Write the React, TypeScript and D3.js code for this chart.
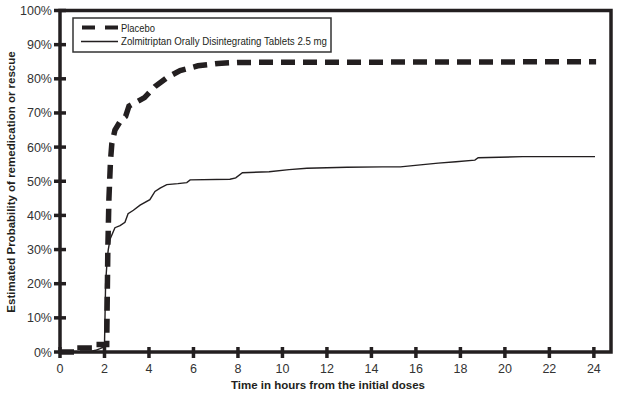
import React, { useEffect, useRef } from 'react';
import * as d3 from 'd3';

// Kaplan-Meier style curves (hours, probability)
const placeboHours = [0, 0.9, 0.9, 1.5, 1.5, 2.1, 2.15, 2.2, 2.27, 2.33, 2.47, 2.75, 2.95, 3.1, 3.8, 4.27, 4.8, 5.4, 6.2, 7.1, 8.0, 24.1];
const placeboProb = [0, 0, 0.012, 0.012, 0.022, 0.022, 0.3, 0.45, 0.56, 0.61, 0.65, 0.68, 0.69, 0.72, 0.745, 0.777, 0.803, 0.824, 0.838, 0.845, 0.848, 0.85];

const zolmiHours = [0, 1.3, 1.6, 1.8, 1.97, 2.0, 2.05, 2.12, 2.17, 2.25, 2.47, 2.7, 2.92, 3.06, 3.3, 3.6, 4.04, 4.27, 4.5, 4.8, 5.3, 5.7, 5.85, 7.64, 7.9, 8.2, 9.4, 10.3, 11.1, 12.9, 14.5, 15.3, 16.2, 17.0, 17.8, 18.65, 18.8, 20.8, 24.05];
const zolmiProb = [0, 0, 0.005, 0.01, 0.015, 0.02, 0.2, 0.27, 0.3, 0.33, 0.364, 0.37, 0.38, 0.405, 0.415, 0.43, 0.446, 0.47, 0.48, 0.49, 0.493, 0.496, 0.504, 0.506, 0.51, 0.525, 0.528, 0.534, 0.538, 0.541, 0.542, 0.542, 0.548, 0.553, 0.557, 0.562, 0.569, 0.572, 0.572];

const xTicks = [0, 2, 4, 6, 8, 10, 12, 14, 16, 18, 20, 22, 24];
const yTicks = [0, 0.1, 0.2, 0.3, 0.4, 0.5, 0.6, 0.7, 0.8, 0.9, 1.0];

const legendLabels = ['Placebo', 'Zolmitriptan Orally Disintegrating Tablets 2.5 mg'];

const App: React.FC = () => {
  const svgRef = useRef<SVGSVGElement>(null);

  useEffect(() => {
    if (!svgRef.current) return;
    const width = 617;
    const height = 393;
    const ink = '#231f20';

    const svg = d3.select(svgRef.current);
    svg.selectAll('*').remove();
    svg.attr('width', width).attr('height', height)
      .style('font-family', 'Arial, "Liberation Sans", Helvetica, sans-serif');

    const x = d3.scaleLinear().domain([0, 24.77]).range([60, 611]);
    const y = d3.scaleLinear().domain([0, 1]).range([352, 10.5]);

    const line = d3.line<[number, number]>()
      .x(d => x(d[0]))
      .y(d => y(d[1]));

    // curves
    const placebo = placeboHours.map((h, i) => [h, placeboProb[i]] as [number, number]);
    const zolmi = zolmiHours.map((h, i) => [h, zolmiProb[i]] as [number, number]);

    svg.append('path')
      .attr('d', line(zolmi)!)
      .attr('fill', 'none')
      .attr('stroke', ink)
      .attr('stroke-width', 1.4);

    svg.append('path')
      .attr('d', line(placebo)!)
      .attr('fill', 'none')
      .attr('stroke', ink)
      .attr('stroke-width', 5.5)
      .attr('stroke-dasharray', '14 8');

    // frame
    svg.append('rect')
      .attr('x', x(0)).attr('y', y(1))
      .attr('width', x.range()[1] - x(0))
      .attr('height', y(0) - y(1))
      .attr('fill', 'none')
      .attr('stroke', ink)
      .attr('stroke-width', 3.5);

    // y ticks (crossing the axis)
    const yg = svg.append('g');
    yg.selectAll('line')
      .data(yTicks)
      .join('line')
      .attr('x1', x(0) - 6).attr('x2', x(0) + 6)
      .attr('y1', d => y(d)).attr('y2', d => y(d))
      .attr('stroke', ink).attr('stroke-width', 3.5);
    yg.selectAll('text')
      .data(yTicks)
      .join('text')
      .attr('x', 52)
      .attr('y', d => y(d) + 4.5)
      .attr('text-anchor', 'end')
      .style('font-size', '12.5px')
      .style('fill', '#333')
      .text(d => `${Math.round(d * 100)}%`);

    // x ticks
    const xg = svg.append('g');
    xg.selectAll('line')
      .data(xTicks)
      .join('line')
      .attr('x1', d => x(d)).attr('x2', d => x(d))
      .attr('y1', y(0) - 5).attr('y2', y(0) + 6)
      .attr('stroke', ink).attr('stroke-width', 3.5);
    xg.selectAll('text')
      .data(xTicks)
      .join('text')
      .attr('x', d => x(d))
      .attr('y', 373)
      .attr('text-anchor', 'middle')
      .style('font-size', '12.5px')
      .style('fill', '#333')
      .text(d => String(d));

    // axis titles
    svg.append('text')
      .attr('x', 328).attr('y', 389)
      .attr('text-anchor', 'middle')
      .style('font-size', '11.5px')
      .style('font-weight', 'bold')
      .style('fill', ink)
      .text('Time in hours from the initial doses');

    svg.append('text')
      .attr('transform', 'translate(15,182) rotate(-90)')
      .attr('text-anchor', 'middle')
      .style('font-size', '11.5px')
      .style('font-weight', 'bold')
      .style('fill', ink)
      .text('Estimated Probability of remedication or rescue');

    // legend
    const lg = svg.append('g');
    lg.append('rect')
      .attr('x', 73).attr('y', 18)
      .attr('width', 258).attr('height', 34)
      .attr('fill', '#fff')
      .attr('stroke', '#333')
      .attr('stroke-width', 1.5);
    lg.append('line')
      .attr('x1', 82).attr('x2', 118)
      .attr('y1', 27.5).attr('y2', 27.5)
      .attr('stroke', ink).attr('stroke-width', 4)
      .attr('stroke-dasharray', '13 10');
    lg.append('line')
      .attr('x1', 81).attr('x2', 118)
      .attr('y1', 41.5).attr('y2', 41.5)
      .attr('stroke', ink).attr('stroke-width', 1.6);
    lg.selectAll('text')
      .data(legendLabels)
      .join('text')
      .attr('x', 121)
      .attr('y', (_, i) => 31.5 + i * 13.5)
      .attr('textLength', (_, i) => (i === 0 ? 34 : 206))
      .attr('lengthAdjust', 'spacingAndGlyphs')
      .style('font-size', '11px')
      .style('fill', ink)
      .text(d => d);
  }, []);

  return (
    <svg
      ref={svgRef}
      style={{ position: 'absolute', left: 0, top: 0, background: '#ffffff' }}
    />
  );
};

export default App;
